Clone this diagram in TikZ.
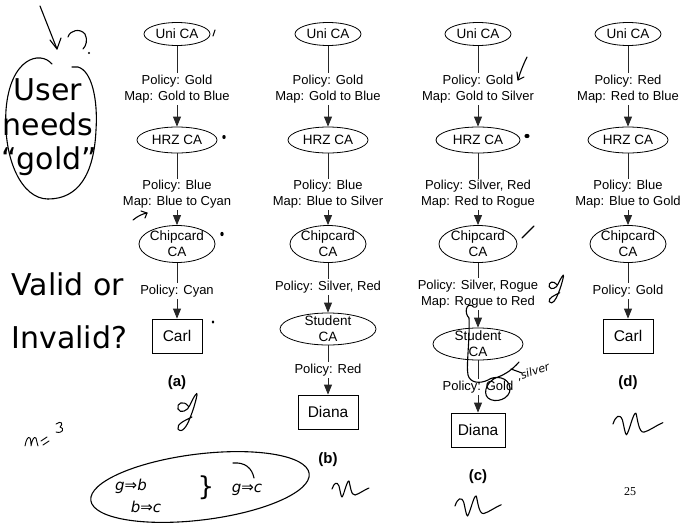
\documentclass[tikz,border=0pt]{standalone}
\usepackage{fontspec}
\setmainfont{Liberation Sans}
\newfontfamily\notefont{DejaVu Sans}
\newfontfamily\pagefont{Liberation Serif}
\usetikzlibrary{shapes.geometric,arrows.meta}

\tikzset{
  ca/.style={ellipse, draw, line width=0.8pt, inner sep=0pt},
  catext/.style={align=center, font=\fontsize{13.5}{16}\selectfont, inner sep=0pt},
  holder/.style={rectangle, draw, line width=0.8pt, inner sep=0pt,
    minimum width=#1, minimum height=34, font=\fontsize{15.5}{18}\selectfont},
  policy/.style={fill=white, inner sep=1.5pt, align=center, font=\fontsize{13}{16}\selectfont},
  link/.style={draw=black!85, line width=0.8pt, -{Triangle[length=10pt,width=8pt]}},
  sublabel/.style={font=\bfseries\fontsize{15}{16}\selectfont},
  ink/.style={line width=1.1pt, line cap=round, line join=round},
  bigword/.style={font=\notefont\fontsize{30}{36}\selectfont, anchor=base},
  hand/.style={font=\notefont\itshape\fontsize{15}{16}\selectfont, inner sep=0pt},
  scrawl/.pic={\draw[ink] (0,0) .. controls (2,-6) and (5,-8) .. (7,-3)
      .. controls (8,1) and (9,8) .. (10,8) .. controls (12,6) and (15,-9) .. (17,-8)
      .. controls (18,-5) and (19,7) .. (23,6) .. controls (27,5) and (32,1) .. (37,-1);},
  gloop/.pic={\draw[ink] (5,-2) .. controls (1,-8) and (-7,-5) .. (-5,1)
      .. controls (-3,6) and (5,3) .. (7,-3) .. controls (10,-10) and (15,-18) .. (14,-13)
      .. controls (12,-3) and (9,5) .. (7,10) .. controls (4,18) and (-1,26) .. (-5,21)
      .. controls (-7,16) and (3,12) .. (9,9);},
}

\begin{document}
\begin{tikzpicture}[x=1pt,y=-1pt]
\useasboundingbox (0,0) rectangle (683,525);

% ---------- chain (a) ----------
\node[ca, minimum width=66, minimum height=23, label={[catext]center:Uni CA}] (a1) at (177,34) {};
\node[ca, minimum width=80, minimum height=26, label={[catext]center:HRZ CA}] (a2) at (177,140) {};
\node[ca, minimum width=76, minimum height=37, label={[catext]center:Chipcard\\CA}] (a3) at (177,244) {};
\node[holder=50] (a4) at (177,336) {Carl};
\draw[link] (a1) -- (a2);
\draw[link] (a2) -- (a3);
\draw[link] (a3) -- (a4);
\node[policy] at (177,89) {Policy: Gold\\Map: Gold to Blue};
\node[policy] at (177,194.5) {Policy: Blue\\Map: Blue to Cyan};
\node[policy] at (177,291) {Policy: Cyan};
\node[sublabel] (la) at (177,383) {(a)};

% ---------- chain (b) ----------
\node[ca, minimum width=66, minimum height=23, label={[catext]center:Uni CA}] (b1) at (328,34) {};
\node[ca, minimum width=80, minimum height=26, label={[catext]center:HRZ CA}] (b2) at (328,140) {};
\node[ca, minimum width=76, minimum height=37, label={[catext]center:Chipcard\\CA}] (b3) at (328,244) {};
\node[ca, minimum width=96, minimum height=32, label={[catext]center:Student\\CA}] (b4) at (328,329) {};
\node[holder=60] (b5) at (328,412) {Diana};
\draw[link] (b1) -- (b2);
\draw[link] (b2) -- (b3);
\draw[link] (b3) -- (b4);
\draw[link] (b4) -- (b5);
\node[policy] at (328,89) {Policy: Gold\\Map: Gold to Blue};
\node[policy] at (328,194.5) {Policy: Blue\\Map: Blue to Silver};
\node[policy] at (328,287) {Policy: Silver, Red};
\node[policy] at (328,370) {Policy: Red};
\node[sublabel] (lb) at (328,460) {(b)};

% ---------- chain (c) ----------
\node[ca, minimum width=66, minimum height=23, label={[catext]center:Uni CA}] (c1) at (478,34) {};
\node[ca, minimum width=84, minimum height=26, label={[catext]center:HRZ CA}] (c2) at (478,140) {};
\node[ca, minimum width=78, minimum height=37, label={[catext]center:Chipcard\\CA}] (c3) at (478,244) {};
\node[ca, minimum width=90, minimum height=32, label={[catext]center:Student\\CA}] (c4) at (478,344) {};
\node[holder=54] (c5) at (478,430) {Diana};
\draw[link] (c1) -- (c2);
\draw[link] (c2) -- (c3);
\draw[link] (c3) -- (c4);
\draw[link] (c4) -- (c5);
\node[policy] at (478,89) {Policy: Gold\\Map: Gold to Silver};
\node[policy] at (478,194.5) {Policy: Silver, Red\\Map: Red to Rogue};
\node[policy] at (478,294) {Policy: Silver, Rogue\\Map: Rogue to Red};
\node[policy] (c45) at (478,387) {Policy: Gold};
\node[sublabel] (lc) at (478,477) {(c)};

% ---------- chain (d) ----------
\node[ca, minimum width=66, minimum height=23, label={[catext]center:Uni CA}] (d1) at (628,34) {};
\node[ca, minimum width=80, minimum height=26, label={[catext]center:HRZ CA}] (d2) at (628,140) {};
\node[ca, minimum width=76, minimum height=37, label={[catext]center:Chipcard\\CA}] (d3) at (628,244) {};
\node[holder=50] (d4) at (628,336) {Carl};
\draw[link] (d1) -- (d2);
\draw[link] (d2) -- (d3);
\draw[link] (d3) -- (d4);
\node[policy] at (628,89) {Policy: Red\\Map: Red to Blue};
\node[policy] at (628,194.5) {Policy: Blue\\Map: Blue to Gold};
\node[policy] at (628,291) {Policy: Gold};
\node[sublabel] (ld) at (628,383) {(d)};

% page number
\node[font=\pagefont\fontsize{12}{14}\selectfont] (pg) at (630,492) {25};

% ---------- question on the left ----------
\node[bigword] (w1) at (48,100) {User};
\node[bigword] (w2) at (48,135) {needs};
\node[bigword] (w3) at (49,169) {“gold”};
\node[bigword, anchor=base west] (w4) at (8,295) {Valid or};
\node[bigword, anchor=base west] (w5) at (8,348) {Invalid?};

% ---------- pen annotations ----------
% arrow and question mark at top left
\draw[ink] (40,6) -- (57,49);
\draw[ink] (50,40) -- (57,49) -- (61,38);
\draw[ink] (68,37) .. controls (70,30) and (80,28) .. (85,34) .. controls (88,40) and (86,46) .. (83,49);
\fill (89,53) circle (1.1pt);
% outline around the question
\draw[ink] (52,64) .. controls (40,50) and (10,58) .. (6,110) .. controls (3,160) and (22,199) .. (48,199);
\draw[ink] (72,67) -- (78,67) .. controls (92,71) and (98,100) .. (96,130) .. controls (94,175) and (78,199) .. (48,199);

% marks beside chain (a)
\draw[ink] (215,30) -- (213,36);
\fill (224,137) ellipse (1.7 and 2);
\fill (222,234) ellipse (1.7 and 2.2);
\fill (213,322) ellipse (1.4 and 1.7);
\draw[ink] (133,220) .. controls (138,216) and (142,214) .. (147,213);
\draw[ink] (141,211) -- (147,213) -- (145,218);
\pic at (183,408) {gloop};

% marks beside chain (c)
\draw[ink] (527,57) .. controls (523,65) and (520,73) .. (518,80);
\draw[ink] (517,72) -- (518,80) -- (524,77);
\fill (527,136) ellipse (2.6 and 2.1);
\draw[ink] (522,238) -- (534,226);
\pic[scale=0.75] at (553,286) {gloop};
\draw[ink] (473,306) .. controls (466,302) and (464,313) .. (469,318)
  .. controls (470,340) and (466,365) .. (468,375) .. controls (470,383) and (480,384) .. (488,380)
  .. controls (495,375) and (509,377) .. (510,388) .. controls (511,399) and (495,404) .. (488,398)
  .. controls (482,392) and (488,380) .. (498,377) .. controls (506,374) and (513,369) .. (519,362);
\draw[ink] (511,369) -- (522,373);
\node[font=\notefont\itshape\fontsize{11}{12}\selectfont, rotate=18, inner sep=0pt, anchor=south west] (sv) at ([xshift=4pt,yshift=5pt]c45.east) {,silver};

% verdict scribbles under the chains
\pic at (332,489) {scrawl};
\pic[scale=1.25] at (455,506) {scrawl};
\pic[scale=1.35] at (613,424) {scrawl};

% working notes at the bottom left
\draw[ink, line width=0.9pt] (25,446) .. controls (26,440) and (28,436) .. (30,438) .. controls (31,440) and (31,444) .. (31,446)
  .. controls (32,440) and (34,436) .. (36,438) .. controls (37,441) and (37,444) .. (38,446);
\draw[ink, line width=0.9pt] (41,441) -- (47,437);
\draw[ink, line width=0.9pt] (43,445) -- (49,441);
\draw[ink, line width=0.9pt] (56,424) .. controls (61,420) and (64,424) .. (60,427) .. controls (65,428) and (63,434) .. (56,432);
\draw[ink, rotate around={7:(200,487)}] (200,487) ellipse (110 and 33);
\draw[ink] (233,463) .. controls (245,462) and (252,468) .. (254,478);
\node[hand] (n1) at (131,486) {g⇒b};
\node[hand] (n2) at (146,507) {b⇒c};
\node[font=\notefont\fontsize{26}{26}\selectfont, inner sep=0pt] (br) at (206,488) {\}};
\node[hand] (n3) at (247,490) {g⇒c};
\end{tikzpicture}
\end{document}
